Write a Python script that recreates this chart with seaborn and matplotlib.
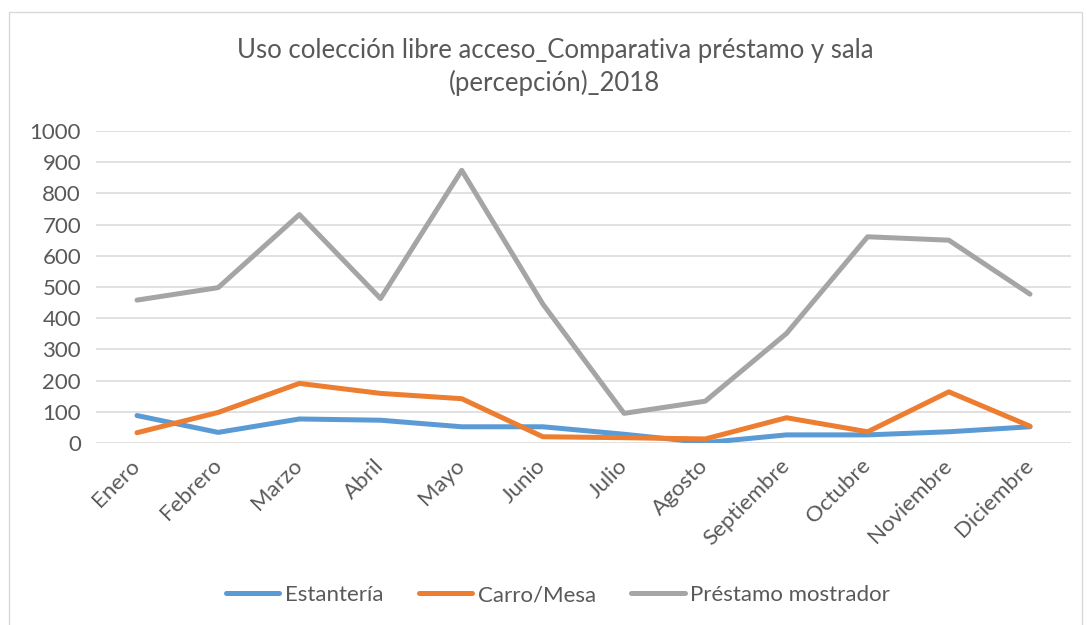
import matplotlib
matplotlib.use('Agg')
import matplotlib.pyplot as plt
import pandas as pd
import seaborn as sns
from matplotlib.patches import Rectangle

meses = ['Enero', 'Febrero', 'Marzo', 'Abril', 'Mayo', 'Junio', 'Julio',
         'Agosto', 'Septiembre', 'Octubre', 'Noviembre', 'Diciembre']
estanteria = [88, 34, 77, 73, 52, 52, 28, 1, 26, 26, 36, 52]
carro_mesa = [33, 98, 191, 159, 142, 20, 17, 13, 81, 36, 164, 54]
prestamo = [458, 498, 732, 463, 874, 445, 95, 134, 351, 661, 650, 477]

series = ['Estantería', 'Carro/Mesa', 'Préstamo mostrador']
colores = ['#5B9BD5', '#ED7D31', '#A5A5A5']
titulo = 'Uso colección libre acceso_Comparativa préstamo y sala\n(percepción)_2018'


def build_frame():
    df = pd.DataFrame({'mes': meses, series[0]: estanteria,
                       series[1]: carro_mesa, series[2]: prestamo})
    df['pos'] = range(len(meses))
    return df.melt(id_vars=['mes', 'pos'], var_name='serie', value_name='valor')


def main():
    sns.set_style('white')
    plt.rcParams['font.family'] = ['Lato', 'DejaVu Sans']
    gris = '#595959'

    fig = plt.figure(figsize=(10.87, 6.25), dpi=100)
    ax = fig.add_axes([96.4 / 1087, 1 - 443 / 625, (1070.6 - 96.4) / 1087, 312 / 625])

    long_df = build_frame()
    sns.lineplot(data=long_df, x='pos', y='valor', hue='serie', hue_order=series,
                 palette=colores, linewidth=3.6, ax=ax, legend=False,
                 solid_capstyle='round', solid_joinstyle='round')

    ax.set_xlim(-0.5, len(meses) - 0.5)
    ax.set_ylim(0, 1000)
    ax.set_yticks(range(0, 1001, 100))
    ax.set_xticks(range(len(meses)))
    ax.set_xticklabels(meses, rotation=45, ha='right', va='center',
                       rotation_mode='anchor')
    ax.tick_params(axis='both', length=0, labelsize=16, labelcolor=gris)
    ax.tick_params(axis='y', pad=11)
    ax.tick_params(axis='x', pad=14)
    ax.set_xlabel('')
    ax.set_ylabel('')
    ax.grid(axis='y', color='#D9D9D9', linewidth=1.1)
    ax.set_axisbelow(True)
    for s in ax.spines.values():
        s.set_visible(False)

    handles = [plt.Line2D([], [], color=c, linewidth=3.6, solid_capstyle='round')
               for c in colores]
    fig.legend(handles, series, loc='center', bbox_to_anchor=(558 / 1087, 1 - 595 / 625),
               ncol=3, frameon=False, fontsize=16, handlelength=2.4,
               handletextpad=0.25, columnspacing=1.6, labelcolor=gris)

    fig.text(555 / 1087, 1 - 67 / 625, titulo, ha='center', va='center',
             fontsize=18.5, color=gris, linespacing=1.3)

    fig.patches.append(Rectangle((9 / 1087, -0.01), 1073 / 1087, 1 - 12 / 625 + 0.01,
                                 transform=fig.transFigure, fill=False,
                                 edgecolor='#D9D9D9', linewidth=1))

    fig.savefig('out.png', dpi=100, facecolor='white')


if __name__ == '__main__':
    main()
